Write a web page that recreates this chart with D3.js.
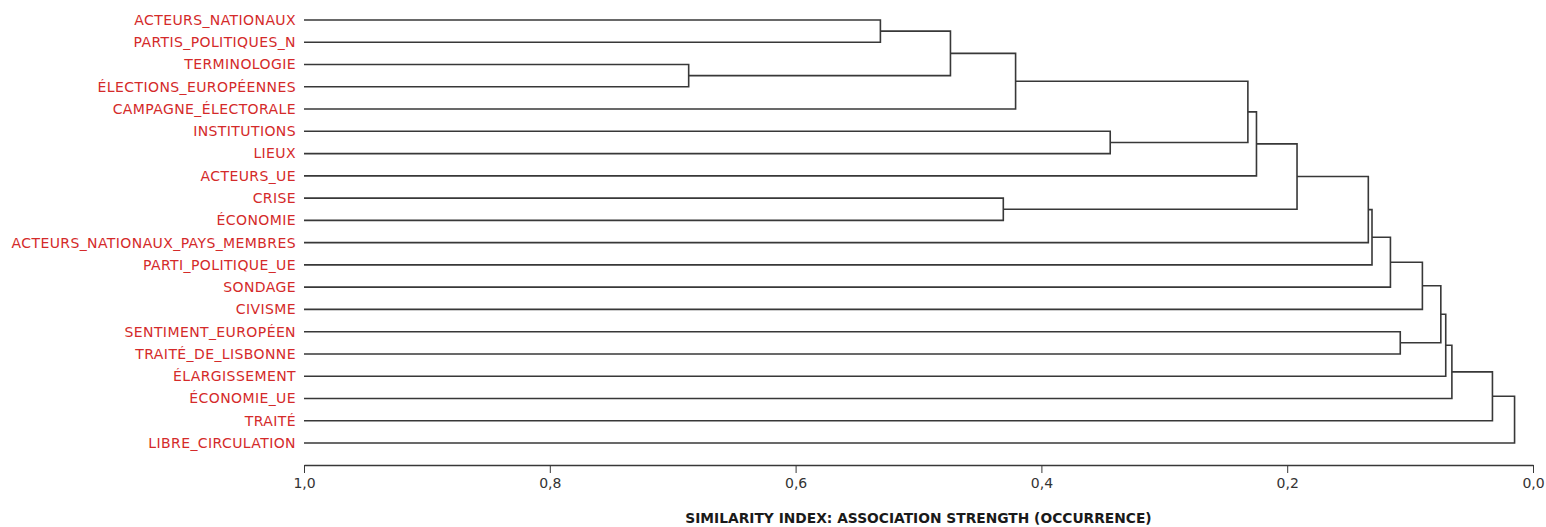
<!DOCTYPE html>
<html lang="fr">
<head>
<meta charset="UTF-8">
<title>Dendrogramme</title>
<style>
    body { margin: 0; background: #fff; }
    svg { display: block; }
</style>
</head>
<body>
<div id="chart"></div>
<script src="https://cdn.jsdelivr.net/npm/d3@7"></script>
<script>
    // feuilles, de haut en bas
    const categories = [
        "ACTEURS_NATIONAUX", "PARTIS_POLITIQUES_N", "TERMINOLOGIE", "ÉLECTIONS_EUROPÉENNES",
        "CAMPAGNE_ÉLECTORALE", "INSTITUTIONS", "LIEUX", "ACTEURS_UE", "CRISE", "ÉCONOMIE",
        "ACTEURS_NATIONAUX_PAYS_MEMBRES", "PARTI_POLITIQUE_UE", "SONDAGE", "CIVISME",
        "SENTIMENT_EUROPÉEN", "TRAITÉ_DE_LISBONNE", "ÉLARGISSEMENT", "ÉCONOMIE_UE",
        "TRAITÉ", "LIBRE_CIRCULATION"
    ];

    // fusions : [gauche, droite] -> indices (0..19 = feuilles, 20+ = noeuds créés dans l'ordre)
    const mergePairs = [
        [2, 3],   // 20
        [0, 1],   // 21
        [21, 20], // 22
        [8, 9],   // 23
        [22, 4],  // 24
        [5, 6],   // 25
        [24, 25], // 26
        [26, 7],  // 27
        [27, 23], // 28
        [14, 15], // 29
        [28, 10], // 30
        [30, 11], // 31
        [31, 12], // 32
        [32, 13], // 33
        [33, 29], // 34
        [34, 16], // 35
        [35, 17], // 36
        [36, 18], // 37
        [37, 19]  // 38
    ];
    // indice de similarité de chaque fusion
    const mergeSimilarity = [
        0.687, 0.531, 0.474, 0.431, 0.421, 0.344, 0.232, 0.225,
        0.192, 0.108, 0.134, 0.131, 0.116, 0.090, 0.075,
        0.071, 0.066, 0.033, 0.015
    ];

    const axisTicks = [1.0, 0.8, 0.6, 0.4, 0.2, 0.0];
    const axisTitle = "SIMILARITY INDEX: ASSOCIATION STRENGTH (OCCURRENCE)";

    const width = 1546, height = 527;
    const margin = { top: 20, right: 13, bottom: 84, left: 304 };

    const svg = d3.select("#chart").append("svg")
        .attr("width", width)
        .attr("height", height);

    const x = d3.scaleLinear()
        .domain([1, 0])
        .range([margin.left, width - margin.right]);

    const y = d3.scalePoint()
        .domain(d3.range(categories.length))
        .range([margin.top, 443]);

    // positions des noeuds
    const nodes = categories.map((name, i) => ({ x: x(1), y: y(i) }));
    mergePairs.forEach(([a, b], i) => {
        const s = mergeSimilarity[i];
        nodes.push({ x: x(s), y: (nodes[a].y + nodes[b].y) / 2, a, b });
    });

    const links = svg.append("g")
        .attr("fill", "none")
        .attr("stroke", "#383838")
        .attr("stroke-width", 1.6);

    nodes.slice(categories.length).forEach(n => {
        const A = nodes[n.a], B = nodes[n.b];
        links.append("path")
            .attr("d", `M${A.x},${A.y}H${n.x}V${B.y}H${B.x}`);
    });

    // étiquettes
    svg.append("g")
        .selectAll("text")
        .data(categories)
        .join("text")
        .attr("x", margin.left - 8)
        .attr("y", (d, i) => y(i))
        .attr("dy", "0.35em")
        .attr("text-anchor", "end")
        .attr("font-family", "DejaVu Sans, sans-serif")
        .attr("font-size", 14)
        .attr("letter-spacing", 0.4)
        .attr("fill", "#d42a2a")
        .text(d => d);

    // axe
    const fr = d3.formatLocale({ decimal: ",", thousands: ".", grouping: [3], currency: ["", " €"] });
    const axis = svg.append("g")
        .attr("transform", `translate(0,465)`)
        .call(d3.axisBottom(x)
            .tickValues(axisTicks)
            .tickFormat(fr.format(".1f"))
            .tickSize(8)
            .tickSizeOuter(0)
            .tickPadding(5));
    axis.select(".domain").attr("stroke", "#383838").attr("stroke-width", 1.6);
    axis.selectAll(".tick line").attr("stroke", "#383838");
    axis.selectAll(".tick text")
        .attr("font-family", "DejaVu Sans, sans-serif")
        .attr("font-size", 14)
        .attr("fill", "#333");

    svg.append("text")
        .attr("x", (x(1) + x(0)) / 2)
        .attr("y", 523)
        .attr("text-anchor", "middle")
        .attr("font-family", "DejaVu Sans, sans-serif")
        .attr("font-weight", "bold")
        .attr("font-size", 13.8)
        .attr("fill", "#1a1a1a")
        .text(axisTitle);
</script>
</body>
</html>
